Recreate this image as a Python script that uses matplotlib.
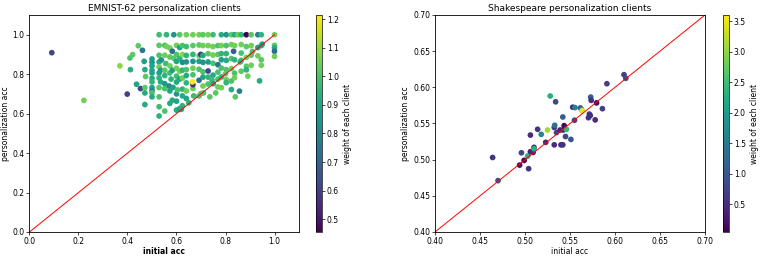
import numpy as np
import matplotlib
matplotlib.use("Agg")
import matplotlib.pyplot as plt

# EMNIST-62: (initial acc, personalization acc, weight)
emnist_points = [
    (0.091, 0.909, 0.62), (0.222, 0.667, 1.05), (0.369, 0.842, 1.08), (0.399, 0.699, 0.60),
    (0.410, 0.882, 1.00), (0.412, 0.823, 0.93), (0.421, 0.899, 1.02), (0.437, 0.749, 0.90),
    (0.444, 0.944, 1.02), (0.453, 0.727, 0.62), (0.461, 0.921, 0.75), (0.468, 0.865, 0.88),
    (0.471, 0.823, 0.92), (0.474, 0.788, 1.02), (0.471, 0.732, 1.02), (0.471, 0.705, 0.92),
    (0.471, 0.646, 0.92),
    (0.500, 0.877, 0.88), (0.500, 0.860, 0.85), (0.500, 0.842, 0.90), (0.500, 0.820, 0.92),
    (0.500, 0.806, 0.90), (0.500, 0.779, 0.92), (0.500, 0.761, 0.95), (0.500, 0.732, 0.90),
    (0.500, 0.717, 0.80), (0.500, 0.705, 1.00), (0.500, 0.685, 0.92),
    (0.529, 1.000, 0.98), (0.529, 0.946, 1.02), (0.529, 0.896, 1.00), (0.529, 0.862, 0.92),
    (0.529, 0.837, 1.05), (0.529, 0.806, 0.90), (0.529, 0.781, 0.95), (0.529, 0.732, 1.02),
    (0.529, 0.685, 1.00), (0.529, 0.635, 0.98), (0.529, 0.588, 0.95),
    (0.535, 0.820, 0.88), (0.535, 0.761, 0.92), (0.538, 0.872, 0.85),
    (0.552, 0.946, 1.00), (0.552, 0.896, 1.05), (0.556, 0.854, 0.98), (0.552, 0.820, 1.02),
    (0.552, 0.793, 0.95), (0.552, 0.752, 0.85), (0.552, 0.727, 1.00), (0.552, 0.613, 1.00),
    (0.559, 1.000, 0.95), (0.560, 0.940, 1.05),
    (0.573, 0.933, 1.05), (0.573, 0.887, 1.02), (0.573, 0.842, 1.05), (0.573, 0.806, 0.98),
    (0.570, 0.740, 0.82), (0.573, 0.715, 0.90), (0.573, 0.652, 0.92), (0.578, 0.775, 0.95),
    (0.583, 0.916, 0.72), (0.583, 0.820, 0.88), (0.586, 0.733, 0.90), (0.583, 0.668, 0.92),
    (0.589, 1.000, 0.85), (0.589, 0.880, 1.02),
    (0.600, 0.946, 1.05), (0.600, 0.900, 1.00), (0.600, 0.865, 0.90), (0.600, 0.830, 1.05),
    (0.600, 0.790, 0.98), (0.600, 0.760, 0.92), (0.600, 0.700, 0.85), (0.600, 0.663, 0.90),
    (0.600, 0.618, 0.92), (0.604, 0.720, 1.00),
    (0.613, 1.000, 1.02), (0.613, 0.935, 0.90), (0.613, 0.880, 0.95), (0.613, 0.815, 1.05),
    (0.613, 0.775, 0.90), (0.613, 0.625, 0.88),
    (0.624, 0.945, 1.00), (0.624, 0.900, 1.08), (0.624, 0.860, 0.82), (0.624, 0.820, 0.95),
    (0.624, 0.780, 1.05), (0.624, 0.724, 0.95), (0.624, 0.690, 0.92), (0.624, 0.640, 0.95),
    (0.640, 1.000, 1.05), (0.640, 0.940, 0.98), (0.640, 0.895, 0.95), (0.640, 0.862, 0.85),
    (0.640, 0.823, 1.00), (0.640, 0.793, 0.92), (0.640, 0.756, 0.95), (0.640, 0.715, 1.05),
    (0.640, 0.677, 0.90),
    (0.667, 1.000, 1.05), (0.667, 0.945, 1.02), (0.667, 0.900, 0.95), (0.667, 0.865, 0.85),
    (0.667, 0.830, 1.05), (0.667, 0.797, 1.00), (0.667, 0.727, 1.05), (0.670, 0.690, 0.98),
    (0.667, 0.747, 0.55), (0.665, 0.761, 1.21),
    (0.692, 1.000, 1.05), (0.692, 0.948, 1.02), (0.692, 0.894, 1.05), (0.692, 0.865, 0.88),
    (0.692, 0.825, 1.00), (0.692, 0.769, 0.72), (0.692, 0.690, 1.00), (0.699, 0.900, 0.58),
    (0.708, 1.000, 1.02), (0.708, 0.945, 1.05), (0.708, 0.895, 0.92), (0.708, 0.860, 0.85),
    (0.708, 0.812, 1.00), (0.708, 0.785, 0.90), (0.708, 0.740, 1.05), (0.710, 0.705, 1.00),
    (0.729, 1.000, 1.05), (0.729, 0.945, 1.05), (0.729, 0.904, 1.02), (0.729, 0.862, 0.88),
    (0.729, 0.816, 0.62), (0.729, 0.785, 0.95), (0.729, 0.750, 1.00), (0.736, 0.685, 1.02),
    (0.749, 1.000, 0.98), (0.749, 0.940, 1.05), (0.749, 0.897, 1.05), (0.749, 0.855, 1.00),
    (0.749, 0.795, 0.92), (0.745, 0.770, 0.98), (0.760, 0.705, 1.02),
    (0.769, 0.945, 1.00), (0.769, 0.900, 1.02), (0.769, 0.848, 0.75), (0.769, 0.810, 1.00),
    (0.769, 0.775, 1.00), (0.769, 0.735, 1.05),
    (0.783, 1.000, 0.92), (0.783, 0.945, 1.05), (0.783, 0.904, 0.95), (0.783, 0.873, 0.88),
    (0.783, 0.831, 1.00), (0.783, 0.786, 0.95), (0.783, 0.732, 1.05),
    (0.803, 1.000, 0.85), (0.803, 0.945, 1.00), (0.803, 0.904, 0.95), (0.803, 0.870, 0.92),
    (0.803, 0.823, 1.00), (0.803, 0.773, 1.05), (0.803, 0.757, 0.95),
    (0.824, 1.000, 1.02), (0.824, 0.950, 1.05), (0.824, 0.879, 1.00), (0.824, 0.828, 1.05),
    (0.824, 0.765, 1.00), (0.824, 0.722, 0.92), (0.833, 0.916, 0.68),
    (0.837, 1.000, 0.92), (0.837, 0.945, 1.05), (0.837, 0.873, 0.95), (0.837, 0.805, 1.00),
    (0.837, 0.782, 1.05), (0.840, 0.685, 1.02),
    (0.851, 1.000, 1.05), (0.857, 0.714, 0.78),
    (0.864, 1.000, 0.95), (0.864, 0.950, 1.05), (0.864, 0.907, 1.00), (0.864, 0.870, 0.98),
    (0.864, 0.815, 1.02),
    (0.885, 1.000, 0.45), (0.885, 0.940, 1.02), (0.885, 0.885, 1.05), (0.885, 0.840, 1.02),
    (0.885, 0.822, 0.95), (0.891, 0.790, 1.05),
    (0.905, 1.000, 1.02), (0.905, 0.945, 1.05), (0.905, 0.896, 1.02), (0.905, 0.845, 1.05),
    (0.932, 1.000, 0.78), (0.932, 0.935, 0.90), (0.932, 0.893, 1.05), (0.939, 0.766, 0.92),
    (0.946, 1.000, 0.95), (0.946, 0.945, 0.92), (0.946, 0.873, 1.02), (0.946, 0.845, 1.05),
    (1.000, 1.000, 1.05), (1.000, 0.946, 1.02), (1.000, 0.933, 0.92), (1.000, 0.916, 0.72),
    (1.000, 0.890, 1.05),
    (0.620, 0.622, 0.92), (0.650, 0.655, 0.95), (0.700, 0.702, 1.00), (0.750, 0.752, 0.90),
    (0.800, 0.802, 1.02), (0.860, 0.862, 0.95), (0.910, 0.915, 1.00), (0.950, 0.952, 0.88),
]

# Shakespeare: (initial acc, personalization acc, weight)
shakespeare_points = [
    (0.464, 0.503, 0.60), (0.470, 0.471, 0.90), (0.494, 0.4925, 0.20), (0.496, 0.5095, 0.80),
    (0.499, 0.499, 0.10), (0.504, 0.4875, 0.60), (0.503, 0.505, 2.30), (0.506, 0.511, 0.40),
    (0.506, 0.534, 0.50), (0.509, 0.510, 0.40), (0.510, 0.517, 0.50), (0.510, 0.515, 2.30),
    (0.514, 0.542, 0.60), (0.518, 0.535, 1.70), (0.523, 0.524, 0.50), (0.528, 0.588, 2.30),
    (0.525, 0.541, 3.10), (0.5325, 0.5205, 0.50), (0.5325, 0.5445, 0.60), (0.533, 0.5475, 1.40),
    (0.534, 0.580, 0.80), (0.535, 0.5375, 0.80), (0.539, 0.541, 0.40), (0.540, 0.5205, 0.40),
    (0.542, 0.5205, 0.60), (0.542, 0.559, 1.10), (0.5425, 0.541, 0.50), (0.5435, 0.547, 0.10),
    (0.545, 0.532, 0.80), (0.546, 0.542, 2.40), (0.551, 0.528, 1.00), (0.553, 0.5725, 0.50),
    (0.555, 0.5545, 0.80), (0.5555, 0.572, 1.60), (0.5615, 0.5715, 1.00), (0.563, 0.569, 1.90),
    (0.5635, 0.5675, 3.50), (0.5705, 0.558, 0.60), (0.5715, 0.563, 0.70), (0.5725, 0.561, 0.50),
    (0.573, 0.5865, 1.10), (0.5735, 0.582, 0.50), (0.578, 0.555, 0.50), (0.5795, 0.5785, 0.15),
    (0.586, 0.5705, 0.70), (0.591, 0.605, 0.70), (0.610, 0.6175, 0.70), (0.612, 0.6125, 0.90),
]

emnist_x, emnist_y, emnist_w = np.array(emnist_points).T
shake_x, shake_y, shake_w = np.array(shakespeare_points).T

fs = 5.5
fig = plt.figure(figsize=(7.62, 2.58), dpi=100)

panels = [
    dict(x=emnist_x, y=emnist_y, w=emnist_w, vmin=0.455, vmax=1.215, lim=(0, 1.1),
         ticks=[0.0, 0.2, 0.4, 0.6, 0.8, 1.0], fmt="{:.1f}", line=(0, 1),
         cticks=[0.5, 0.6, 0.7, 0.8, 0.9, 1.0, 1.1, 1.2],
         title="EMNIST-62 personalization clients", bold_x=True,
         ax_rect=[0.0387, 0.1008, 0.3537, 0.8411], cb_rect=[0.4147, 0.1008, 0.0079, 0.8411]),
    dict(x=shake_x, y=shake_y, w=shake_w, vmin=0.05, vmax=3.6, lim=(0.4, 0.7),
         ticks=[0.40, 0.45, 0.50, 0.55, 0.60, 0.65, 0.70], fmt="{:.2f}", line=(0.4, 0.7),
         cticks=[0.5, 1.0, 1.5, 2.0, 2.5, 3.0, 3.5],
         title="Shakespeare personalization clients", bold_x=False,
         ax_rect=[0.5709, 0.1008, 0.3543, 0.8411], cb_rect=[0.9488, 0.1008, 0.0079, 0.8411]),
]

for p in panels:
    ax = fig.add_axes(p["ax_rect"])
    sc = ax.scatter(p["x"], p["y"], c=p["w"], cmap="viridis", vmin=p["vmin"], vmax=p["vmax"],
                    s=17, linewidths=0)
    ax.plot(p["line"], p["line"], color="red", linewidth=0.7)
    ax.set_xlim(p["lim"])
    ax.set_ylim(p["lim"])
    ax.set_xticks(p["ticks"])
    ax.set_yticks(p["ticks"])
    ax.set_xticklabels([p["fmt"].format(t) for t in p["ticks"]])
    ax.set_yticklabels([p["fmt"].format(t) for t in p["ticks"]])
    ax.tick_params(labelsize=fs, length=2, width=0.5, pad=1.5)
    for s in ax.spines.values():
        s.set_linewidth(0.6)
    ax.set_title(p["title"], fontsize=6.5, pad=3)
    ax.set_xlabel("initial acc", fontsize=fs, labelpad=1,
                  fontweight="bold" if p["bold_x"] else "normal")
    ax.set_ylabel("personalization acc", fontsize=fs, labelpad=2)

    cax = fig.add_axes(p["cb_rect"])
    cb = fig.colorbar(sc, cax=cax, ticks=p["cticks"])
    cb.outline.set_linewidth(0.5)
    cb.ax.tick_params(labelsize=fs, length=2, width=0.5, pad=1.5)
    cb.set_label("weight of each client", fontsize=fs, labelpad=3)

fig.savefig("out.png", dpi=100)
